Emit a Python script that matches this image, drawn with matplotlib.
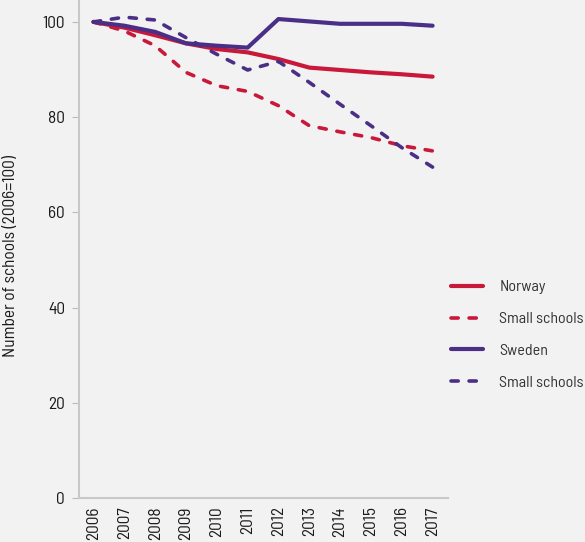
import matplotlib
matplotlib.use("Agg")
import matplotlib.pyplot as plt

years = ["2006", "2007", "2008", "2009", "2010", "2011",
         "2012", "2013", "2014", "2015", "2016", "2017"]
norway = [100, 98.8, 97.2, 95.5, 94.3, 93.6, 92.2, 90.4, 89.9, 89.4, 89.0, 88.5]
norway_small = [100, 98.1, 95.0, 89.4, 86.6, 85.4, 82.4, 78.2, 76.9, 75.7, 74.0, 72.9]
sweden = [100, 99.2, 97.9, 95.5, 95.0, 94.6, 100.6, 100.1, 99.6, 99.6, 99.6, 99.2]
sweden_small = [100, 101.0, 100.4, 96.7, 93.2, 89.9, 91.7, 87.3, 82.7, 78.2, 73.6, 69.5]

red = "#C8193A"
purple = "#4B2F86"
bg = "#F2F2F2"

plt.rcParams['font.family'] = ['Barlow Semi Condensed', 'DejaVu Sans']

fig = plt.figure(figsize=(5.85, 5.42), dpi=100, facecolor=bg)
ax = fig.add_axes([79 / 585, 44 / 542, (448 - 79) / 585, 498 / 542])
ax.set_facecolor(bg)

x = list(range(len(years)))
dash = (0, (2, 3))
ax.plot(x, norway, color=red, lw=3, solid_capstyle='round', label="Norway")
ax.plot(x, norway_small, color=red, lw=2.6, linestyle=dash,
        dash_capstyle='round', label="Small schools")
ax.plot(x, sweden, color=purple, lw=3, solid_capstyle='round', label="Sweden")
ax.plot(x, sweden_small, color=purple, lw=2.6, linestyle=dash,
        dash_capstyle='round', label="Small schools")

ax.set_xlim(-0.47, 11.5)
ax.set_ylim(0, 104.6)
ax.set_yticks([0, 20, 40, 60, 80, 100])
ax.set_xticks(x)
ax.set_xticklabels(years, rotation=90)
ax.tick_params(axis='y', length=5, color="#BBBBBB", labelsize=12.5, labelcolor="#1A1A1A", pad=5)
ax.tick_params(axis='x', length=0, labelsize=12.5, labelcolor="#1A1A1A", pad=6)
for s in ["top", "right"]:
    ax.spines[s].set_visible(False)
for s in ["left", "bottom"]:
    ax.spines[s].set_color("#C8C8C8")
    ax.spines[s].set_linewidth(1.5)

ax.set_ylabel("Number of schools (2006=100)", fontsize=12.5, color="#1A1A1A")
ax.yaxis.set_label_coords(-0.164, 0.486)

leg = fig.legend(loc="center left", bbox_to_anchor=(437 / 585, 1 - 335 / 542),
                 frameon=False, fontsize=11.5, handlelength=2.0, handletextpad=1.0,
                 labelspacing=1.1)
for t in leg.get_texts():
    t.set_color("#333333")

fig.savefig("out.png", dpi=100, facecolor=bg)
